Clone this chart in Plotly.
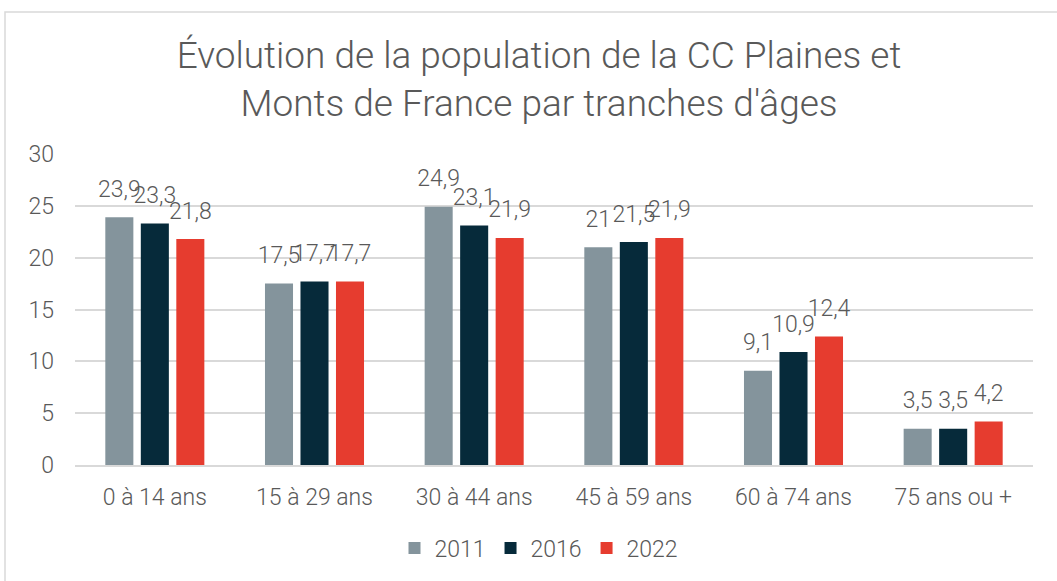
import plotly.graph_objects as go

categories = ["0 à 14 ans", "15 à 29 ans", "30 à 44 ans", "45 à 59 ans", "60 à 74 ans", "75 ans ou +"]
v2011 = [23.9, 17.5, 24.9, 21.0, 9.1, 3.5]
v2016 = [23.3, 17.7, 23.1, 21.5, 10.9, 3.5]
v2022 = [21.8, 17.7, 21.9, 21.9, 12.4, 4.2]
y_ticks = [0, 5, 10, 15, 20, 25, 30]

series = [("2011", v2011, "#84949C"), ("2016", v2016, "#062A3A"), ("2022", v2022, "#E63C2F")]

FONT = "Roboto"
GREY = "#595959"

def fmt(v):
    s = ("%g" % v)
    return s.replace(".", ",")

fig = go.Figure()
for name, vals, col in series:
    fig.add_trace(go.Bar(
        x=categories, y=vals, name=name, offsetgroup=name,
        marker=dict(color=col, line=dict(width=0)), hoverinfo="skip",
    ))
for name, vals, col in series:
    fig.add_trace(go.Scatter(
        x=categories, y=vals, name=name, offsetgroup=name, showlegend=False,
        mode="markers+text", marker=dict(size=22, opacity=0),
        text=[fmt(v) for v in vals], textposition="top center", cliponaxis=False,
        textfont=dict(family=FONT, size=23, color=GREY, weight=300), hoverinfo="skip",
    ))

fig.update_layout(
    width=1057, height=581,
    barmode="group", bargap=0.333, bargroupgap=0.21,
    scattermode="group", scattergap=0.333,
    plot_bgcolor="white", paper_bgcolor="white",
    margin=dict(l=75, r=24, t=154, b=116, autoexpand=False),
    font=dict(family=FONT, color=GREY, weight=300),
    title=dict(text="Évolution de la population de la CC Plaines et<br>Monts de France par tranches d'âges",
               x=539/1057, xanchor="center", y=1-68/581, yanchor="top", yref="container",
               font=dict(family=FONT, size=37, color=GREY, weight=300)),
    xaxis=dict(showgrid=False, showline=True, linecolor="#D9D9D9", linewidth=1.5,
               tickfont=dict(family=FONT, size=23, color=GREY, weight=300), ticklabelstandoff=11),
    yaxis=dict(range=[0, 30], tickvals=y_ticks, showgrid=True, gridcolor="#D9D9D9", gridwidth=1.5,
               zeroline=False, showline=False,
               tickfont=dict(family=FONT, size=23, color=GREY, weight=300), ticklabelstandoff=20),
    legend=dict(orientation="h", x=539/1057, xref="container", xanchor="center",
                y=1-548/581, yref="container", yanchor="middle",
                font=dict(family=FONT, size=23, color=GREY, weight=300), itemwidth=30),
    shapes=[dict(type="rect", xref="paper", yref="paper", x0=(5-75)/958, x1=1.2,
                 y0=-0.6, y1=(465-12)/311, line=dict(color="#D9D9D9", width=1.5), layer="below")],
)

fig.write_html("out.html", config={"displayModeBar": False},
               post_script="document.body.style.margin='0';document.body.style.padding='0';")
